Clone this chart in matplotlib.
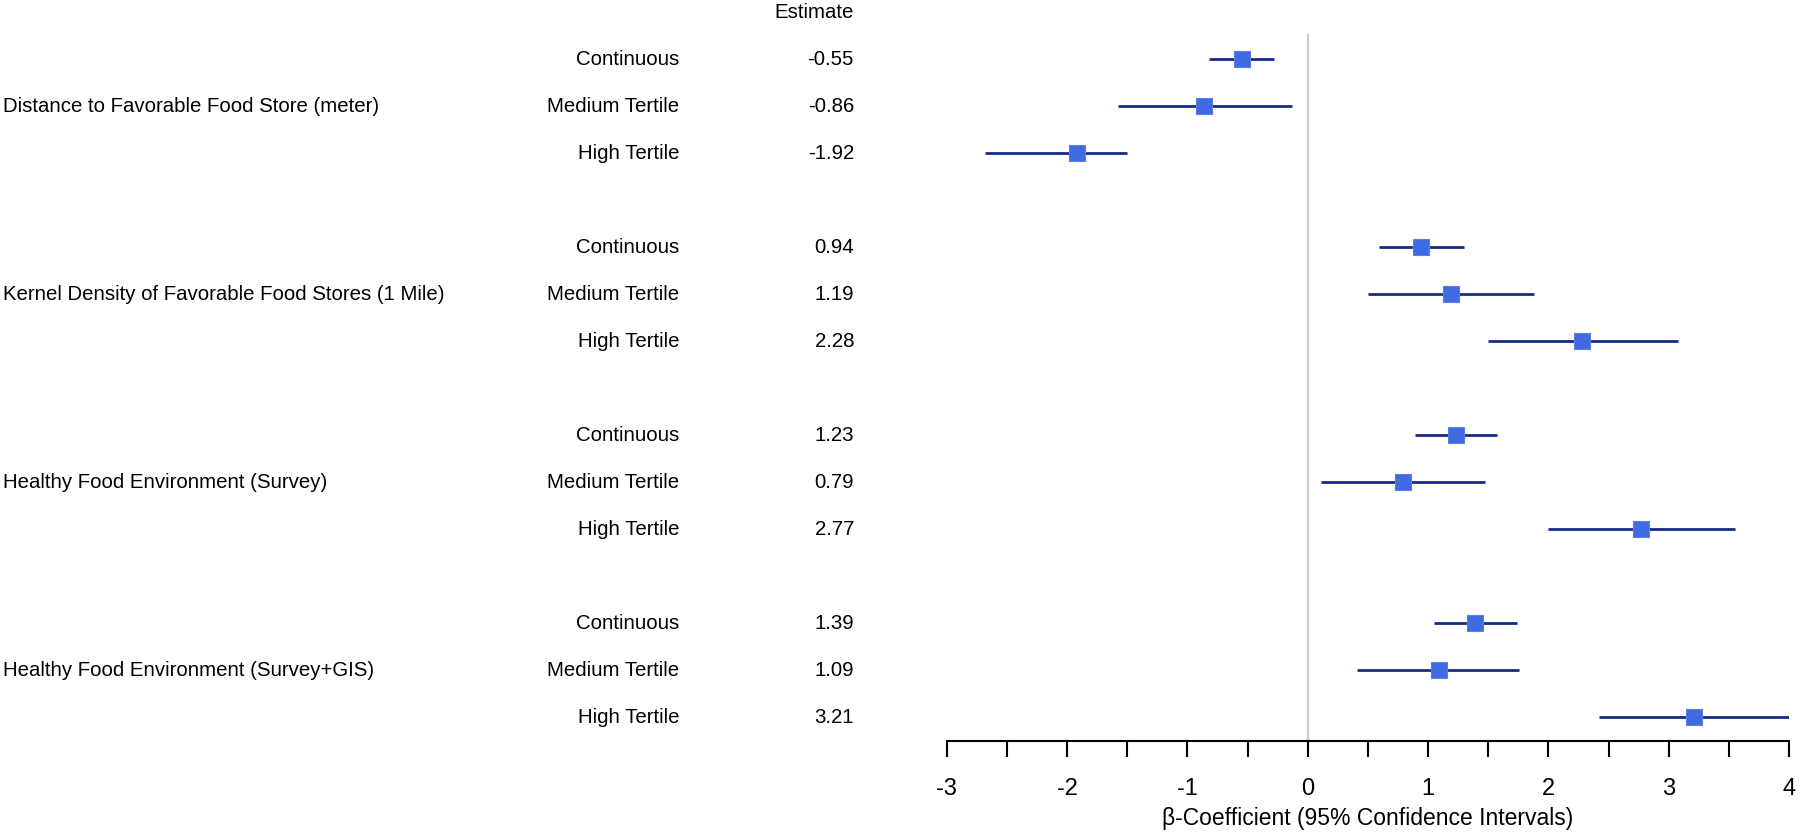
import matplotlib

matplotlib.use("Agg")
import matplotlib.pyplot as plt
from matplotlib.transforms import blended_transform_factory

groups = [
    "Distance to Favorable Food Store (meter)",
    "Kernel Density of Favorable Food Stores (1 Mile)",
    "Healthy Food Environment (Survey)",
    "Healthy Food Environment (Survey+GIS)",
]
levels = ["Continuous", "Medium Tertile", "High Tertile"]
estimates = [-0.55, -0.86, -1.92, 0.94, 1.19, 2.28, 1.23, 0.79, 2.77, 1.39, 1.09, 3.21]
lower = [-0.82, -1.58, -2.68, 0.59, 0.50, 1.50, 0.89, 0.11, 2.00, 1.05, 0.41, 2.42]
upper = [-0.28, -0.13, -1.50, 1.30, 1.88, 3.08, 1.57, 1.47, 3.55, 1.74, 1.76, 4.00]
xticks = [-3, -2, -1, 0, 1, 2, 3, 4]

plt.rcParams["font.family"] = ["Liberation Sans", "DejaVu Sans"]

fig = plt.figure(figsize=(18, 8.36), dpi=100)
ax = fig.add_axes([946.7 / 1800, 1 - 741 / 836, (1789 - 946.7) / 1800, (741 - 34) / 836])

# one blank row between groups
rows = [4 * g + k for g in range(len(groups)) for k in range(len(levels))]

ax.axvline(0, color="#cccccc", lw=1.6, zorder=1)
ax.hlines(rows, lower, upper, color="#1a2a8c", lw=2.0, zorder=2)
ax.plot(estimates, rows, "s", color="#4169e1", markersize=11,
        markeredgecolor="#5a7ee8", markeredgewidth=0.8, zorder=3, clip_on=False)

ax.set_xlim(-3, 4)
ax.set_ylim(14.5, -0.54)
# ticks every half unit, labels only on whole numbers
half_ticks = [x / 2 for x in range(2 * xticks[0], 2 * xticks[-1] + 1)]
ax.set_xticks(half_ticks)
ax.set_xticklabels([str(int(t)) if t in xticks else "" for t in half_ticks])
ax.tick_params(axis="x", length=11.5, width=1.5, pad=15, labelsize=17)
ax.set_yticks([])
for side in ("top", "right", "left"):
    ax.spines[side].set_visible(False)
ax.spines["bottom"].set_linewidth(1.5)
ax.set_xlabel("β-Coefficient (95% Confidence Intervals)", fontsize=16.5, labelpad=5)

tr = blended_transform_factory(fig.transFigure, ax.transData)
fs = 14.7
ax.text(854 / 1800, -1, "Estimate", transform=tr, ha="right", va="center", fontsize=fs, clip_on=False)
for g, name in enumerate(groups):
    ax.text(3 / 1800, 4 * g + 1, name, transform=tr, ha="left", va="center", fontsize=fs)
for i, r in enumerate(rows):
    ax.text(679 / 1800, r, levels[i % 3], transform=tr, ha="right", va="center", fontsize=fs)
    ax.text(854 / 1800, r, f"{estimates[i]:.2f}", transform=tr, ha="right", va="center", fontsize=fs)

fig.savefig("out.png", dpi=100)
plt.close(fig)
